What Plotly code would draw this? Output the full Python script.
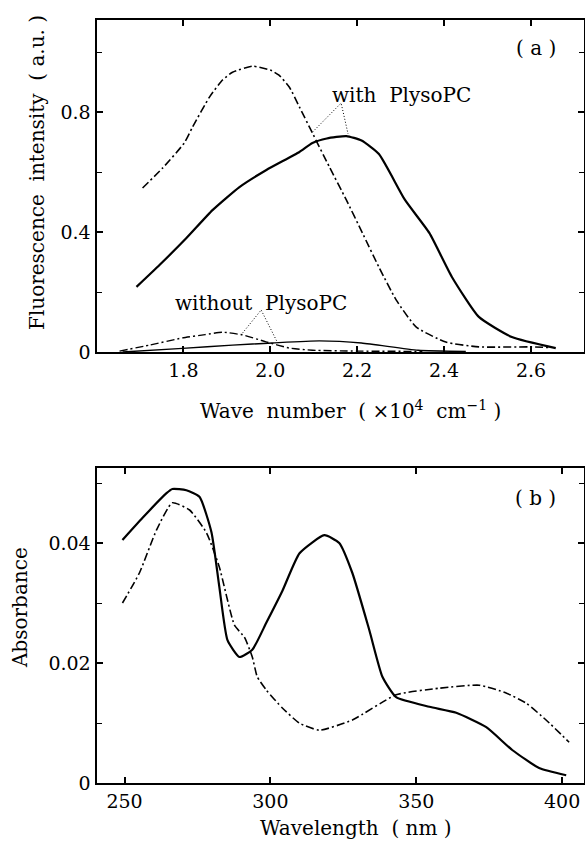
import plotly.graph_objects as go

# ---------- Panel (a): fluorescence ----------
wn_with_solid = [1.692, 1.745, 1.807, 1.867, 1.929, 1.991, 2.067, 2.097, 2.13, 2.175, 2.21, 2.25, 2.31, 2.366, 2.418, 2.48, 2.556, 2.657]
fl_with_solid = [0.217, 0.29, 0.38, 0.473, 0.55, 0.607, 0.667, 0.697, 0.712, 0.72, 0.705, 0.66, 0.507, 0.397, 0.25, 0.117, 0.05, 0.013]

wn_with_dd = [1.706, 1.752, 1.802, 1.821, 1.86, 1.89, 1.913, 1.959, 2.0, 2.02, 2.044, 2.067, 2.097, 2.136, 2.175, 2.212, 2.25, 2.29, 2.336, 2.404, 2.48, 2.595, 2.64]
fl_with_dd = [0.547, 0.613, 0.697, 0.75, 0.85, 0.907, 0.933, 0.953, 0.94, 0.923, 0.883, 0.817, 0.73, 0.617, 0.507, 0.397, 0.283, 0.173, 0.083, 0.033, 0.017, 0.017, 0.015]

wn_without_dd = [1.653, 1.722, 1.798, 1.85, 1.89, 1.936, 1.99, 2.044, 2.097, 2.2, 2.35]
fl_without_dd = [0.003, 0.023, 0.047, 0.058, 0.066, 0.057, 0.034, 0.013, 0.006, 0.003, 0.002]

wn_without_solid = [1.66, 1.798, 1.913, 2.005, 2.113, 2.21, 2.34, 2.45]
fl_without_solid = [0.0, 0.012, 0.023, 0.03, 0.037, 0.03, 0.006, 0.002]

# leader lines (curve -> label apex -> curve)
lead_with_x = [2.097, 2.163, 2.179]
lead_with_y = [0.733, 0.83, 0.727]
lead_without_x = [1.936, 1.979, 2.016]
lead_without_y = [0.063, 0.14, 0.033]

# ---------- Panel (b): absorbance ----------
wl_solid = [249.3, 256.2, 264.4, 266.4, 271.2, 275.7, 279.8, 282.5, 285.3, 289.4, 293.8, 298.6, 304.1, 310.0, 318.5, 323.6, 328.1, 333.9, 338.4, 343.1, 354.5, 363.7, 374.0, 382.9, 392.1, 401.4]
ab_solid = [0.0405, 0.0442, 0.0483, 0.049, 0.0488, 0.0477, 0.0418, 0.0327, 0.0238, 0.021, 0.0222, 0.0267, 0.032, 0.0383, 0.0413, 0.040, 0.035, 0.0255, 0.0177, 0.0143, 0.0127, 0.0117, 0.0093, 0.0055, 0.0025, 0.0013]

wl_dd = [249.3, 255.1, 261.0, 266.4, 272.3, 278.1, 282.5, 287.7, 291.1, 293.8, 295.5, 298.6, 304.1, 309.9, 316.8, 328.1, 343.1, 357.9, 371.6, 380.8, 387.7, 394.5, 402.4]
ab_dd = [0.030, 0.035, 0.0422, 0.0467, 0.0455, 0.0417, 0.036, 0.0263, 0.0243, 0.021, 0.0177, 0.0155, 0.0125, 0.010, 0.0088, 0.0105, 0.0147, 0.0158, 0.0163, 0.015, 0.0133, 0.0105, 0.0068]

ticks_a_y = [0, 0.4, 0.8]
ticklab_a_y = ["0", "0.4", "0.8"]
minor_a_y = [0.2, 0.6, 1.0]
ticks_a_x = [1.8, 2.0, 2.2, 2.4, 2.6]
ticklab_a_x = ["1.8", "2.0", "2.2", "2.4", "2.6"]
ticks_b_y = [0, 0.02, 0.04]
ticklab_b_y = ["0", "0.02", "0.04"]
minor_b_y = [0.01, 0.03, 0.05]
ticks_b_x = [250, 300, 350, 400]
ticklab_b_x = ["250", "300", "350", "400"]

FONT = "DejaVu Serif"
DD = "8px,3px,2px,3px"

fig = go.Figure()

def line(x, y, xa, ya, width, dash, color="black"):
    fig.add_trace(go.Scatter(x=x, y=y, xaxis=xa, yaxis=ya, mode="lines",
                             line=dict(color=color, width=width, dash=dash, shape="spline", smoothing=0.5),
                             showlegend=False, hoverinfo="skip"))

line(wn_with_solid, fl_with_solid, "x", "y", 2.2, "solid")
line(wn_with_dd, fl_with_dd, "x", "y", 1.6, DD)
line(wn_without_dd, fl_without_dd, "x", "y", 1.4, DD)
line(wn_without_solid, fl_without_solid, "x", "y", 1.4, "solid")
for lx, ly in [(lead_with_x, lead_with_y), (lead_without_x, lead_without_y)]:
    fig.add_trace(go.Scatter(x=lx, y=ly, xaxis="x", yaxis="y", mode="lines",
                             line=dict(color="black", width=1, dash="1px,2px"),
                             showlegend=False, hoverinfo="skip"))

line(wl_solid, ab_solid, "x2", "y2", 2.2, "solid")
line(wl_dd, ab_dd, "x2", "y2", 1.6, DD)

W, H = 585, 844
xl, xr = 96.5 / W, 584 / W
ya_dom = [1 - 352 / H, 1 - 20 / H]
yb_dom = [1 - 783 / H, 1 - 468 / H]

axis_common = dict(showline=True, linecolor="black", linewidth=2, mirror="ticks",
                   ticks="inside", ticklen=6, tickwidth=1.5, tickcolor="black",
                   showgrid=False, zeroline=False, automargin=False,
                   tickfont=dict(family=FONT, size=19, color="black"))
minor_common = dict(ticks="inside", ticklen=5, tickcolor="black", tickwidth=1.2)

fig.update_layout(
    width=W, height=H, margin=dict(l=0, r=0, t=0, b=0, pad=0, autoexpand=False),
    paper_bgcolor="white", plot_bgcolor="white",
    xaxis=dict(domain=[xl, xr], anchor="y", range=[1.6, 2.722],
               tickvals=ticks_a_x, ticktext=ticklab_a_x, **axis_common),
    yaxis=dict(domain=ya_dom, anchor="x", range=[0, 1.107],
               tickvals=ticks_a_y, ticktext=ticklab_a_y,
               minor=dict(tickvals=minor_a_y, **minor_common), **axis_common),
    xaxis2=dict(domain=[xl, xr], anchor="y2", range=[240.4, 407.5],
                tickvals=ticks_b_x, ticktext=ticklab_b_x, **axis_common),
    yaxis2=dict(domain=yb_dom, anchor="x2", range=[0, 0.0525],
                tickvals=ticks_b_y, ticktext=ticklab_b_y,
                minor=dict(tickvals=minor_b_y, **minor_common), **axis_common),
    font=dict(family=FONT, color="black"),
)

tf = dict(family=FONT, size=20, color="black")
C = dict(showarrow=False, font=tf, xanchor="center", yanchor="middle")
ann = [
    dict(x=2.301, y=0.857, xref="x", yref="y", text="with  PlysoPC", **C),
    dict(x=1.979, y=0.163, xref="x", yref="y", text="without  PlysoPC", **C),
    dict(x=2.611, y=1.013, xref="x", yref="y", text="( a )", **C),
    dict(x=391, y=0.0475, xref="x2", yref="y2", text="( b )", **C),
    dict(x=37 / W, y=1 - 173 / H, xref="paper", yref="paper", text="Fluorescence  intensity  ( a.u. )",
         textangle=-90, **C),
    dict(x=350 / W, y=1 - 410 / H, xref="paper", yref="paper",
         text="Wave  number  ( ×10<sup>4</sup>  cm<sup>−1</sup> )", **C),
    dict(x=20 / W, y=1 - 608 / H, xref="paper", yref="paper", text="Absorbance",
         textangle=-90, **C),
    dict(x=356 / W, y=1 - 828 / H, xref="paper", yref="paper", text="Wavelength  ( nm )", **C),
]
fig.update_layout(annotations=ann)

fig.write_html("out.html", config={"displayModeBar": False},
               post_script="document.body.style.margin='0';document.body.style.overflow='hidden';")
